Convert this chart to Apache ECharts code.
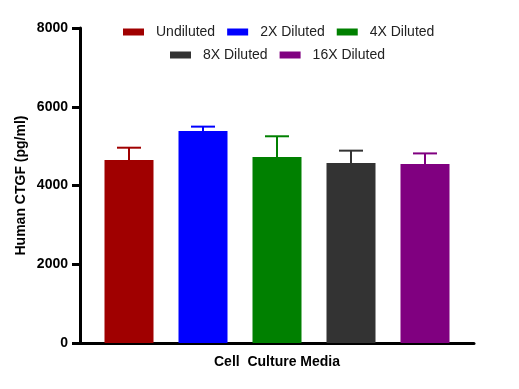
<!DOCTYPE html>
<html>
<head>
<meta charset="utf-8">
<script src="https://cdn.jsdelivr.net/npm/echarts@6/dist/echarts.min.js"></script>
<style>html,body{margin:0;padding:0;background:#fff}#c{width:519px;height:389px}</style>
</head>
<body>
<div id="c"></div>
<script>
const categories = ['Cell  Culture Media'];
const seriesNames = ['Undiluted', '2X Diluted', '4X Diluted', '8X Diluted', '16X Diluted'];
const meanValues = [4650, 5385, 4725, 4570, 4545];
const errorValues = [310, 110, 525, 315, 270];
const yTicks = [0, 2000, 4000, 6000, 8000];

const colors = ['#A00000', '#0000FF', '#008000', '#333333', '#800080'];
const BAR_W = 49, GAP_PX = 25;
const FONT = 'Liberation Sans, Arial, sans-serif';

const chart = echarts.init(document.getElementById('c'));

const barSeries = seriesNames.map((n, i) => ({
  name: n,
  type: 'bar',
  data: [meanValues[i]],
  barWidth: BAR_W,
  barGap: (GAP_PX / BAR_W * 100) + '%',
  itemStyle: { color: colors[i] },
  z: 2
}));

const errData = meanValues.map((m, i) => [0, m, m + errorValues[i], i]);

const errSeries = {
  type: 'custom',
  data: errData,
  z: 3,
  renderItem: function (params, api) {
    const idx = api.value(3);
    const top = api.coord([0, api.value(2)]);
    const base = api.coord([0, api.value(1)]);
    const n = seriesNames.length;
    const off = (idx - (n - 1) / 2) * (BAR_W + GAP_PX);
    const x = top[0] + off;
    const half = 12;
    const col = colors[idx];
    return {
      type: 'group',
      children: [
        { type: 'line', shape: { x1: x, y1: base[1], x2: x, y2: top[1] }, style: { stroke: col, lineWidth: 2 } },
        { type: 'line', shape: { x1: x - half, y1: top[1], x2: x + half, y2: top[1] }, style: { stroke: col, lineWidth: 2 } }
      ]
    };
  }
};

const legendBase = {
  itemWidth: 21,
  itemHeight: 7,
  itemGap: 12,
  icon: 'rect',
  textStyle: { fontFamily: FONT, fontSize: 14, color: '#222', padding: [0, 0, 0, 7] }
};

chart.setOption({
  animation: false,
  color: colors,
  legend: [
    Object.assign({}, legendBase, { top: 20, left: 118, data: seriesNames.slice(0, 3) }),
    Object.assign({}, legendBase, { top: 43, left: 165, data: seriesNames.slice(3) })
  ],
  grid: { left: 80, right: 45, top: 28, bottom: 46, containLabel: false },
  xAxis: {
    type: 'category',
    data: categories,
    axisLine: { lineStyle: { color: '#000', width: 3 } },
    axisTick: { alignWithLabel: true, length: 8, lineStyle: { color: '#000', width: 3 } },
    axisLabel: { fontFamily: FONT, fontSize: 14, fontWeight: 'bold', color: '#000', margin: 12 }
  },
  yAxis: {
    type: 'value',
    min: 0,
    max: 8000,
    interval: 2000,
    name: 'Human CTGF (pg/ml)',
    nameLocation: 'middle',
    nameGap: 52,
    nameMoveOverlap: false,
    nameTextStyle: { fontFamily: FONT, fontSize: 14, fontWeight: 'bold', color: '#000' },
    axisLine: { show: true, lineStyle: { color: '#000', width: 3 } },
    axisTick: { show: true, length: 8, lineStyle: { color: '#000', width: 3 } },
    axisLabel: {
      fontFamily: FONT, fontSize: 14, fontWeight: 'bold', color: '#000', margin: 12,
      formatter: v => yTicks.includes(v) ? String(v) : ''
    },
    splitLine: { show: false }
  },
  series: barSeries.concat([errSeries])
});
</script>
</body>
</html>
